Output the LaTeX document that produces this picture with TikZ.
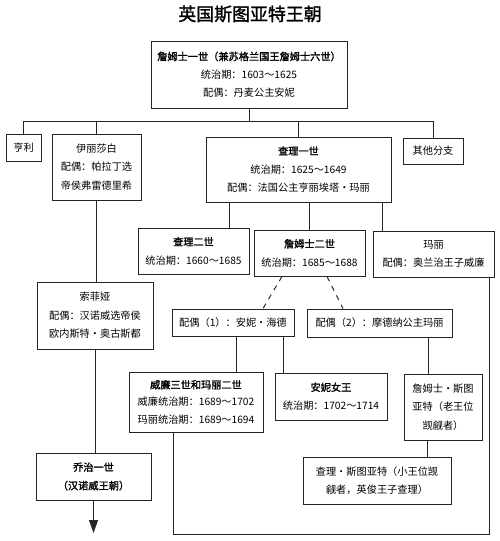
\documentclass[tikz,border=0pt]{standalone}
\usepackage{fontspec}
\setmainfont{Noto Sans CJK SC}[AutoFakeBold=1.5]
\usepackage{tikz}
\usetikzlibrary{arrows.meta, positioning, calc}

\begin{document}
\begin{tikzpicture}[
  box/.style = {
    rectangle, draw=black!85, line width=0.55pt, fill=white, align=center,
    inner sep=1pt, font=\fontsize{5.8}{10.5}\selectfont
  },
  link/.style = {draw=black!85, line width=0.55pt},
  dashlink/.style = {draw=black!85, line width=0.55pt, dashed},
  arrow/.style = {-{Triangle[length=2.6mm, width=1.8mm]}, draw=black!85, line width=0.55pt}
]
  \useasboundingbox (0,0) rectangle (10,-10.82);

  % Judul
  \node[font=\fontsize{10.2}{12}\selectfont\bfseries] (title) at (5,-0.28) {英国斯图亚特王朝};

  % Generasi pertama
  \node[box, minimum width=3.92cm, minimum height=1.34cm, font=\fontsize{5.8}{10.3}\selectfont] (jam1) at (4.98,-1.49)
    {\textbf{詹姆士一世（兼苏格兰国王詹姆士六世）}\\统治期：1603～1625\\配偶：丹麦公主安妮};

  % Anak-anak James I
  \node[box, minimum width=0.70cm, minimum height=0.54cm] (henry)    at (0.47,-2.95) {亨利};
  \node[box, minimum width=1.78cm, minimum height=1.32cm] (eliz)     at (1.93,-3.34) {伊丽莎白\\配偶：帕拉丁选\\帝侯弗雷德里希};
  \node[box, minimum width=3.70cm, minimum height=1.30cm] (charles1) at (5.97,-3.39)
    {\textbf{查理一世}\\统治期：1625～1649\\配偶：法国公主亨丽埃塔·玛丽};
  \node[box, minimum width=1.20cm, minimum height=0.52cm] (other)    at (8.66,-3.02) {其他分支};

  % Anak-anak Charles I
  \node[box, minimum width=2.22cm, minimum height=0.92cm] (charles2) at (3.87,-5.02) {\textbf{查理二世}\\统治期：1660～1685};
  \node[box, minimum width=2.22cm, minimum height=0.92cm] (james2)   at (6.19,-5.06) {\textbf{詹姆士二世}\\统治期：1685～1688};
  \node[box, minimum width=2.42cm, minimum height=0.92cm] (mary)     at (8.67,-5.08) {玛丽\\配偶：奥兰治王子威廉};

  % Pasangan James II
  \node[box, minimum width=2.44cm, minimum height=0.54cm] (spouse1) at (4.66,-6.45) {配偶（1）：安妮·海德};
  \node[box, minimum width=2.90cm, minimum height=0.56cm] (spouse2) at (7.59,-6.46) {配偶（2）：摩德纳公主玛丽};

  % Cabang Hanover
  \node[box, minimum width=2.32cm, minimum height=1.34cm] (sophia) at (1.90,-6.31) {索菲娅\\配偶：汉诺威选帝侯\\欧内斯特·奥古斯都};
  \node[box, minimum width=2.30cm, minimum height=0.94cm] (george) at (1.87,-9.53) {\textbf{乔治一世}\\\textbf{（汉诺威王朝）}};

  % Generasi berikutnya
  \node[box, minimum width=2.68cm, minimum height=1.20cm, font=\fontsize{5.8}{9.8}\selectfont] (wm3) at (3.92,-8.04)
    {\textbf{威廉三世和玛丽二世}\\威廉统治期：1689～1702\\玛丽统治期：1689～1694};
  \node[box, minimum width=2.24cm, minimum height=0.94cm] (anne)    at (6.62,-7.93) {\textbf{安妮女王}\\统治期：1702～1714};
  \node[box, minimum width=1.56cm, minimum height=1.32cm] (jstuart) at (8.86,-8.14) {詹姆士·斯图\\亚特（老王位\\觊觎者）};
  \node[box, minimum width=2.96cm, minimum height=0.94cm] (cstuart) at (7.54,-9.61) {查理·斯图亚特（小王位觊\\觎者，英俊王子查理）};

  % Garis cabang utama
  \coordinate (busL) at (0.47,-2.42);
  \coordinate (busR) at (8.66,-2.42);
  \draw[link] (jam1.south) -- (jam1.south |- busL);
  \draw[link] (busL) -- (busR);
  \draw[link] (busL) -- (henry.north);
  \draw[link] (eliz.north |- busL) -- (eliz.north);
  \draw[link] (charles1.north |- busL) -- (charles1.north);
  \draw[link] (busR) -- (other.north);

  % Charles I ke anak-anaknya
  \draw[link] ([xshift=-1.39cm]charles1.south) -- ([xshift=-1.39cm]charles1.south |- charles2.north);
  \draw[link] (charles1.south -| james2.north) -- (james2.north);
  \draw[link] ([xshift=1.67cm]charles1.south) -- ([xshift=1.67cm]charles1.south |- mary.north);

  % James II ke pasangannya
  \draw[dashlink] ([xshift=-0.55cm]james2.south) -- ([xshift=0.6cm]spouse1.north);
  \draw[dashlink] ([xshift=0.35cm]james2.south) -- ([xshift=-0.73cm]spouse2.north);

  % Pasangan ke anak-anak
  \draw[link] ([xshift=0.07cm]spouse1.south) -- ([xshift=0.07cm]spouse1.south |- wm3.north);
  \draw[link] ([xshift=1.0cm]spouse1.south) -- ([xshift=1.0cm]spouse1.south |- anne.north);
  \draw[link] ([xshift=0.97cm]spouse2.south) -- ([xshift=0.97cm]spouse2.south |- jstuart.north);
  \draw[link] ([xshift=-0.32cm]jstuart.south) -- ([xshift=-0.32cm]jstuart.south |- cstuart.north);

  % Mary dan William
  \coordinate (loop) at (0,-10.68);
  \draw[link] ([xshift=1.11cm]mary.south) -- ([xshift=1.11cm]mary.south |- loop) -| ([xshift=-0.46cm]wm3.south);

  % Elizabeth -> Sophia -> George I
  \draw[link] (eliz.south) -- (eliz.south |- sophia.north);
  \draw[link] (sophia.south) -- (sophia.south |- george.north);
  \coordinate (down) at (0,-10.66);
  \draw[arrow] (george.south) -- (george.south |- down);

\end{tikzpicture}
\end{document}
